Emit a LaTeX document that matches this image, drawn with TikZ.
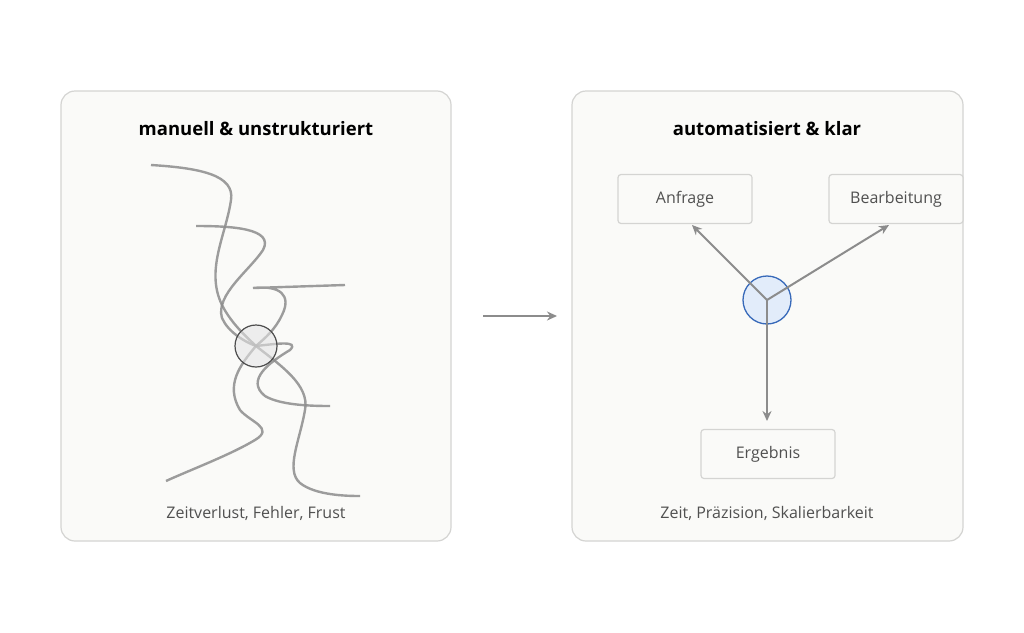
\documentclass[tikz,border=0pt]{standalone}
\usepackage{fontspec}
\setmainfont{Open Sans}
\usetikzlibrary{arrows.meta}
\definecolor{panel}{RGB}{250,250,248}
\definecolor{pborder}{RGB}{212,212,210}
\definecolor{txt}{RGB}{80,80,80}
\definecolor{ln}{RGB}{140,140,140}
\definecolor{cfill}{RGB}{226,236,250}
\definecolor{cdraw}{RGB}{55,105,185}
\begin{document}
\begin{tikzpicture}[x=1pt,y=-1pt,
  panelbox/.style={draw=pborder,fill=panel,rounded corners=14pt,line width=1.2pt},
  title/.style={font=\fontsize{18.5}{22}\selectfont\bfseries,text=black},
  sub/.style={font=\fontsize{16}{19}\selectfont,text=txt},
  lbl/.style={draw=pborder,fill=panel,rounded corners=3pt,line width=1.2pt,minimum width=134pt,minimum height=49pt,font=\fontsize{16}{19}\selectfont,text=txt},
  squig/.style={draw=ln,line width=2.4pt,opacity=.85},
  arr/.style={draw=ln,line width=2pt,-{Stealth[length=10pt,width=9pt]}}]
\useasboundingbox (0,0) rectangle (1024,632);
\fill[white] (0,0) rectangle (1024,632);
\draw[panelbox] (61,91) rectangle (451,541);
\draw[panelbox] (572,91) rectangle (963,541);
\node[title] (t1) at (256,129) {manuell \& unstrukturiert};
\node[title] (t2) at (767,129) {automatisiert \& klar};
\node[sub] (s1) at (256,513) {Zeitverlust, Fehler, Frust};
\node[sub] (s2) at (767,513) {Zeit, Präzision, Skalierbarkeit};
\node[circle,fill=black!8,minimum size=42pt,inner sep=0] (c0) at (256,346) {};
% squiggles
\draw[squig] (151,165) .. controls (200,168) and (235,175) .. (231,200)
  .. controls (226,235) and (205,270) .. (222,305)
  .. controls (232,325) and (250,340) .. (256,346)
  .. controls (280,365) and (310,385) .. (305,410)
  .. controls (300,440) and (285,470) .. (300,483)
  .. controls (315,495) and (345,496) .. (360,496);
\draw[squig] (196,226) .. controls (230,226) and (275,228) .. (263,250)
  .. controls (250,270) and (215,295) .. (222,318)
  .. controls (228,332) and (245,342) .. (256,346)
  .. controls (275,344) and (300,340) .. (290,350)
  .. controls (270,362) and (245,380) .. (265,396)
  .. controls (280,405) and (310,406) .. (330,406);
\draw[squig] (345,285) -- (253,288)
  .. controls (280,285) and (292,295) .. (282,315)
  .. controls (275,330) and (265,338) .. (256,346)
  .. controls (240,365) and (225,385) .. (240,410)
  .. controls (250,422) and (275,428) .. (255,440)
  .. controls (230,455) and (190,470) .. (166,481);
\node[circle,draw=black!70,fill=black!6,fill opacity=.5,line width=1.2pt,minimum size=42pt,inner sep=0] (c1) at (256,346) {};
% middle arrow
\coordinate (m1) at (483,316);
\coordinate (m2) at (557,316);
\draw[arr] (m1) -- (m2);
% right
\node[lbl] (a) at (685,199) {Anfrage};
\node[lbl] (b) at (896,199) {Bearbeitung};
\node[lbl] (e) at (768,454) {Ergebnis};
\node[circle,draw=cdraw,fill=cfill,line width=1.3pt,minimum size=48pt,inner sep=0] (c) at (767,300) {};
\coordinate (ct) at (767,300);
\coordinate (ea) at (692,225);
\coordinate (eb) at (889,225);
\coordinate (ee) at (767,421);
\draw[arr] (ct) -- (ea);
\draw[arr] (ct) -- (eb);
\draw[arr] (ct) -- (ee);
\end{tikzpicture}
\end{document}
